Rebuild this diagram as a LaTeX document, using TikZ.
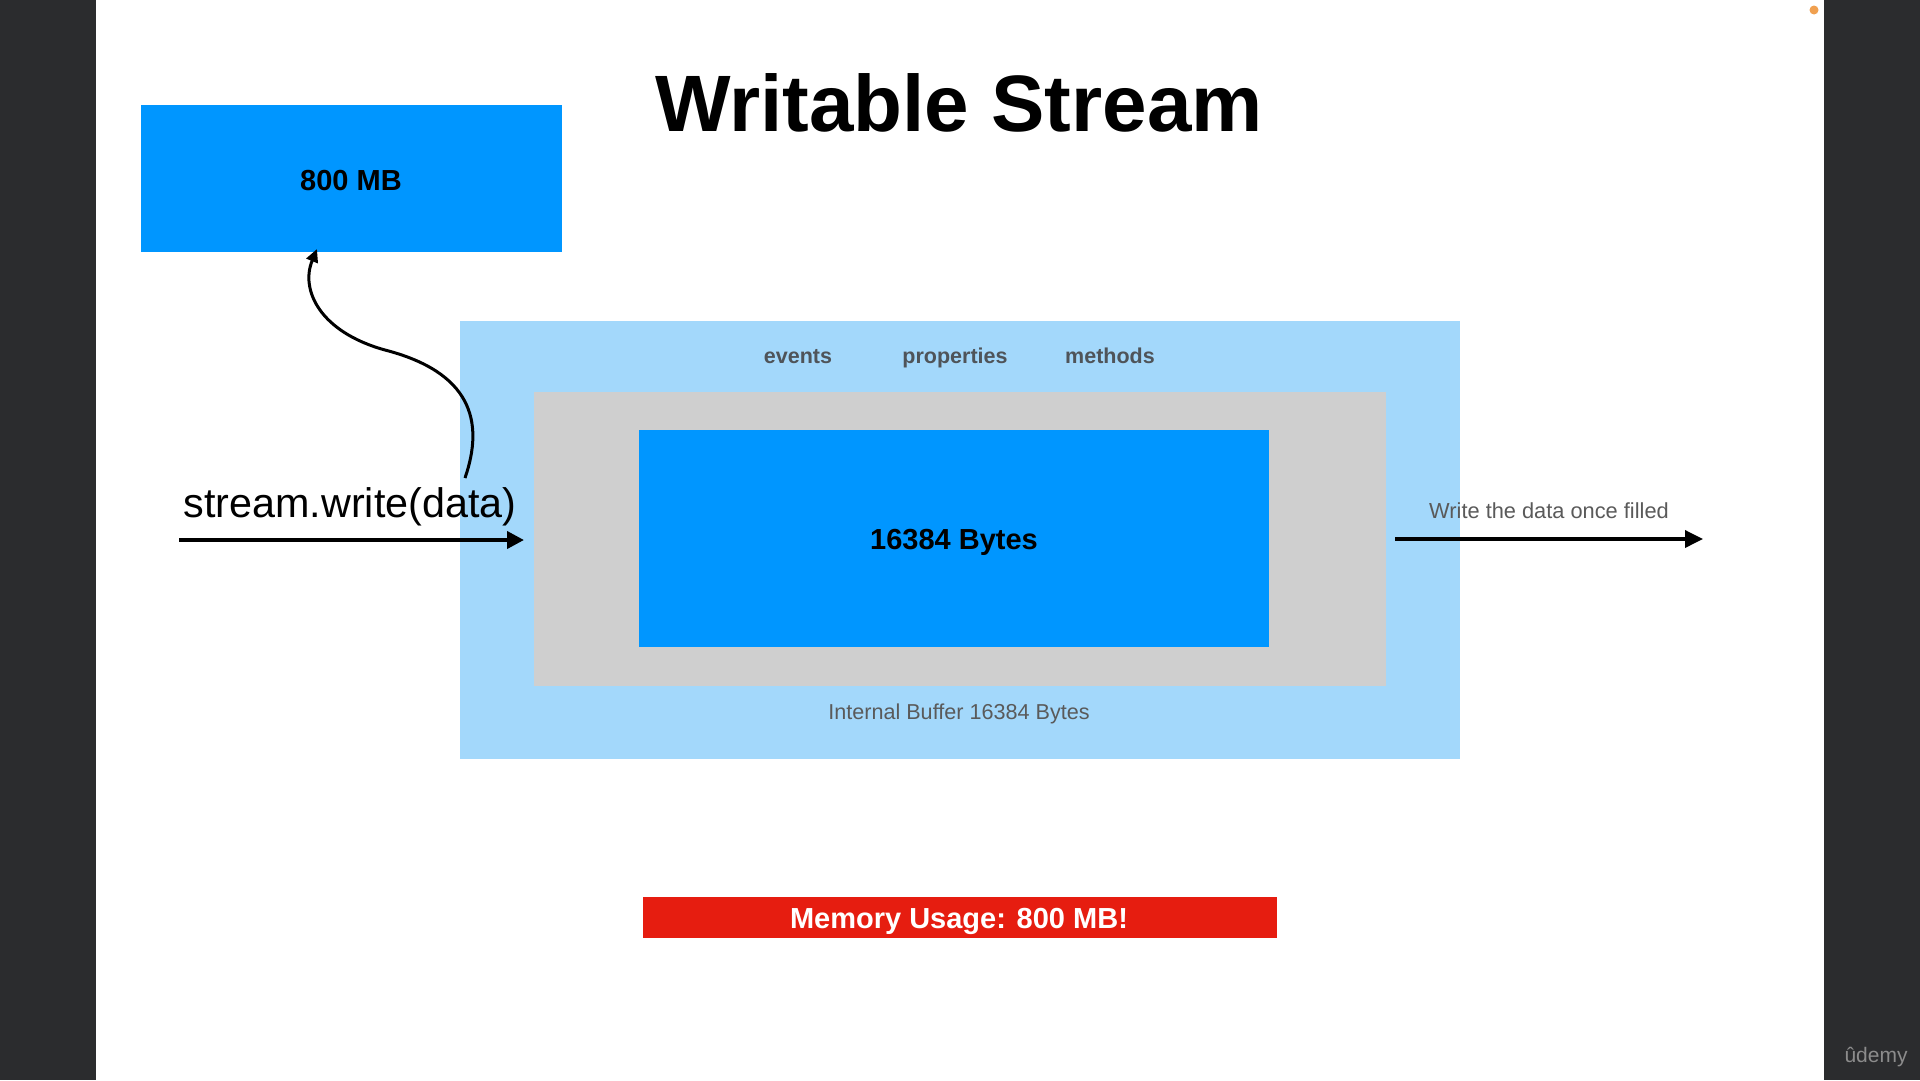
\documentclass[tikz,border=0pt]{standalone}
\usepackage{fontspec}
\setmainfont{Liberation Sans}
\usetikzlibrary{arrows.meta}
\definecolor{darkbg}{HTML}{2B2C2E}
\definecolor{bblue}{HTML}{0096FF}
\definecolor{lblue}{HTML}{A3D8FB}
\definecolor{bgray}{HTML}{CFCFCF}
\definecolor{bred}{HTML}{E61D10}
\definecolor{tgray}{HTML}{4F5459}
\definecolor{lgray}{HTML}{5A5A5A}
\definecolor{dotc}{HTML}{F0A050}
\definecolor{wmark}{HTML}{8C8C8C}
\begin{document}
\begin{tikzpicture}[x=1pt,y=-1pt,
  boxfill/.style={draw=none, inner sep=0pt, outer sep=0pt, anchor=north west},
  txt/.style={inner sep=0pt, outer sep=0pt, anchor=base},
  sz/.style={font=\fontsize{#1}{#1}\selectfont},
  bsz/.style={font=\fontsize{#1}{#1}\selectfont\bfseries},
  fatarrow/.style={line width=4pt, -{Triangle[length=17pt,width=17pt]}},
  outarrow/.style={line width=3.5pt, -{Triangle[length=18pt,width=17pt]}},
  curvearrow/.style={line width=3pt, -{Triangle[length=13pt,width=12pt]}}]
\useasboundingbox (0,0) rectangle (1920,1080);
\fill[white] (0,0) rectangle (1920,1080);
\fill[darkbg] (0,0) rectangle (96,1080);
\fill[darkbg] (1824,0) rectangle (1920,1080);
\fill[dotc] (1814,10) circle (4.5);

% boxes
\node[boxfill, fill=bblue, minimum width=421pt, minimum height=147pt] (mb) at (141,105) {};
\node[boxfill, fill=lblue, minimum width=1000pt, minimum height=438pt] (stream) at (460,321) {};
\node[boxfill, fill=bgray, minimum width=852pt, minimum height=294pt] (buffer) at (534,392) {};
\node[boxfill, fill=bblue, minimum width=630pt, minimum height=217pt] (chunk) at (639,430) {};
\node[boxfill, fill=bred, minimum width=634pt, minimum height=41pt] (mem) at (643,897) {};

% texts
\node[txt, bsz=80] (title) at (959,131) {Writable Stream};
\node[txt, bsz=29] (mbtext) at (351,190) {800 MB};
\node[txt, bsz=21.5, text=tgray] (events) at (798,363) {events};
\node[txt, bsz=21.5, text=tgray] (props) at (955,363) {properties};
\node[txt, bsz=21.5, text=tgray] (methods) at (1110,363) {methods};
\node[txt, bsz=29] (bytes) at (954,549) {16384 Bytes};
\node[txt, sz=21.6, text=lgray] (ibuf) at (959,719) {Internal Buffer 16384 Bytes};
\node[txt, sz=41.3] (write) at (350,517) {stream.write(data)};
\node[txt, sz=21.8, text=lgray] (filled) at (1549,518) {Write the data once filled};
\node[txt, bsz=29, text=white] (memtext) at (959,928) {Memory Usage: 800 MB!};
\node[txt, sz=21, text=wmark] (udemy) at (1876,1062) {ûdemy};

% connectors
\coordinate (inA) at (179,540);
\coordinate (outB) at (1703,539);
\coordinate (cstart) at (465,478);
\coordinate (ctip) at (317,249);
\draw[fatarrow, shorten >=10pt] (inA) -- (inA -| buffer.west);
\draw[outarrow, shorten <=9pt] (buffer.east |- outB) -- (outB);
\draw[curvearrow] (cstart) .. controls (485,420) and (470,372) .. (385,350)
  .. controls (320,332) and (300,290) .. (ctip);
\end{tikzpicture}
\end{document}
